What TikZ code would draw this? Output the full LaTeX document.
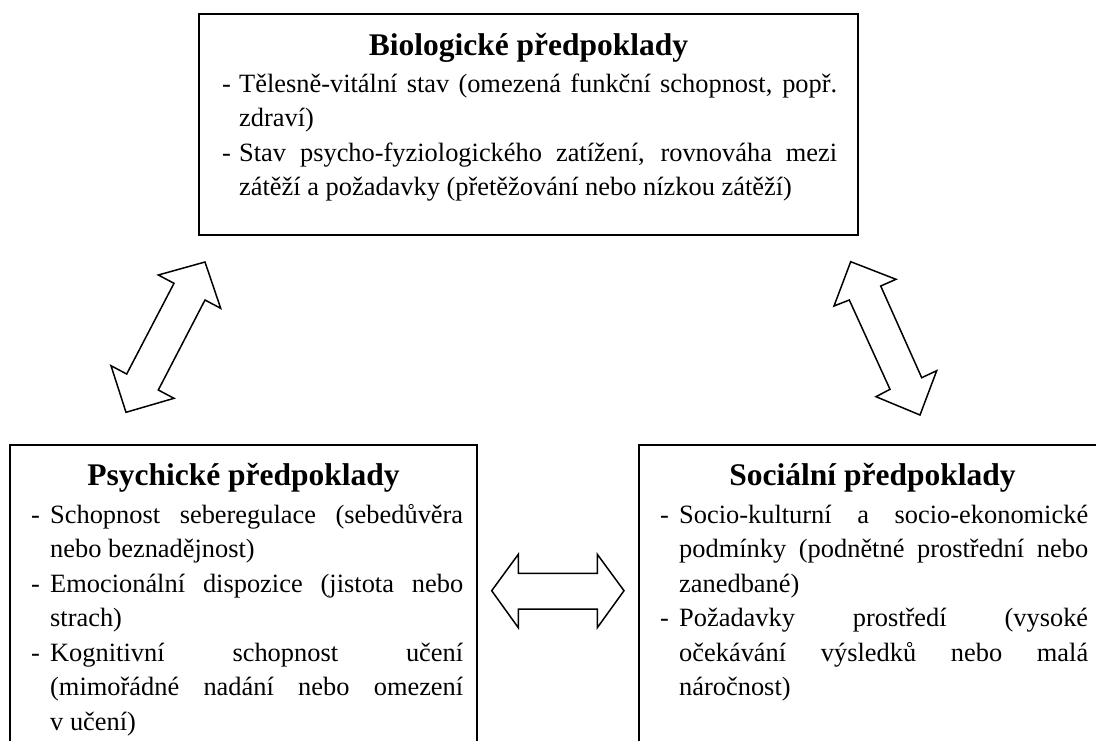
\documentclass[tikz,border=0pt]{standalone}
\usepackage{fontspec}
\setmainfont{Liberation Serif}
\newdimen\hind
\newcommand\JF[1]{\hbox to\hsize{\hbox to\hind{-\hfil}\spaceskip=0.25em plus 1fil minus 0.05em\xspaceskip=\spaceskip\relax #1}}
\newcommand\NF[1]{\hbox{\hbox to\hind{-\hfil}#1}}
\newcommand\JL[1]{\hbox to\hsize{\hskip\hind\spaceskip=0.25em plus 1fil minus 0.05em\xspaceskip=\spaceskip\relax #1}}
\newcommand\NL[1]{\hbox{\hskip\hind #1}}
\newcommand\bodytext[3]{\vtop{\hsize=#1\hind=#2\fontsize{26.4}{34.5}\selectfont #3}}
\tikzset{
  box/.style={draw=black, line width=1.5pt, fill=white, inner sep=0pt},
  ttl/.style={font=\fontsize{31.5}{36}\selectfont\bfseries, anchor=base, inner sep=0pt},
  bdy/.style={anchor=base west, inner sep=0pt},
  barrow/.style={draw=black, line width=1.5pt, fill=white, line join=miter}
}
\begin{document}
\begin{tikzpicture}[x=1pt,y=-1pt]
\useasboundingbox (0,0) rectangle (1096,740);
\clip (0,0) rectangle (1096,740);
\fill[white] (0,0) rectangle (1096,740);

% boxes
\node[box, minimum width=659pt, minimum height=221pt] (bio) at (528.5,124.5) {};
\node[box, minimum width=467pt, minimum height=360pt] (psy) at (243.5,625) {};
\node[box, minimum width=467pt, minimum height=360pt] (soc) at (872.5,625) {};

% titles
\node[ttl] (biot) at (528.5,55) {Biologické předpoklady};
\node[ttl] (psyt) at (243.5,485) {Psychické předpoklady};
\node[ttl] (soct) at (872.5,485) {Sociální předpoklady};

% bodies
\node[bdy] (biob) at (222,92) {\bodytext{615pt}{17pt}{%
  \JF{Tělesně-vitální stav (omezená funkční schopnost, popř.}%
  \NL{zdraví)}%
  \JF{Stav psycho-fyziologického zatížení, rovnováha mezi}%
  \NL{zátěží a požadavky (přetěžování nebo nízkou zátěží)}}};
\node[bdy] (psyb) at (31,523) {\bodytext{432pt}{19pt}{%
  \JF{Schopnost seberegulace (sebedůvěra}%
  \NL{nebo beznadějnost)}%
  \JF{Emocionální dispozice (jistota nebo}%
  \NL{strach)}%
  \JF{Kognitivní schopnost učení}%
  \JL{(mimořádné nadání nebo omezení}%
  \NL{v učení)}}};
\node[bdy] (socb) at (660,523) {\bodytext{428pt}{19pt}{%
  \JF{Socio-kulturní a socio-ekonomické}%
  \JL{podmínky (podnětné prostřední nebo}%
  \NL{zanedbané)}%
  \JF{Požadavky prostředí (vysoké}%
  \JL{očekávání výsledků nebo malá}%
  \NL{náročnost)}}};

% block arrows
\draw[barrow] (205,262) -- (220.7,308.3) -- (205,300) -- (158.3,390) -- (174,398.3)
  -- (126,412.3) -- (111,365.7) -- (126.7,374) -- (174,283.3) -- (158.3,275) -- cycle;
\draw[barrow] (850.7,261.7) -- (896,279.3) -- (880.7,286) -- (921.7,377.7) -- (936.7,370.7)
  -- (920,415) -- (876,396.7) -- (890,389.3) -- (849.3,300) -- (834,306) -- cycle;
\draw[barrow] (491.7,590.7) -- (518.3,554.3) -- (518.3,573.3) -- (597.3,573.3) -- (597.3,554.3)
  -- (624,590.7) -- (597.3,627.7) -- (597.3,609) -- (518.3,609) -- (518.3,627.7) -- cycle;
\end{tikzpicture}
\end{document}
